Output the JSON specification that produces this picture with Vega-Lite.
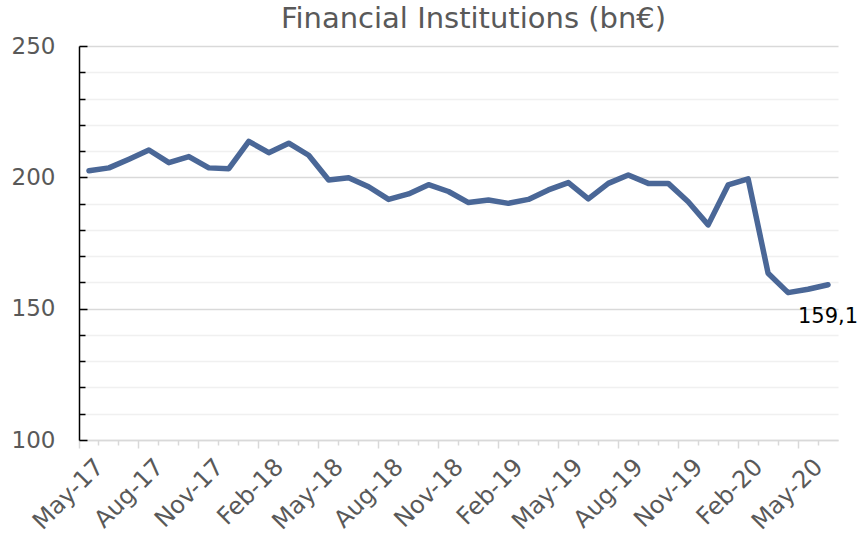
{
  "$schema": "https://vega.github.io/schema/vega-lite/v6.json",
  "width": 759,
  "height": 394,
  "autosize": {"type": "none"},
  "padding": {"left": 79, "top": 46, "right": 20, "bottom": 100},
  "background": "white",
  "config": {
    "view": {"stroke": null},
    "locale": {"number": {"decimal": ",", "thousands": ".", "grouping": [3], "currency": ["", " €"]}}
  },
  "title": {
    "text": "Financial Institutions (bn€)",
    "font": "DejaVu Sans",
    "fontSize": 29,
    "fontWeight": "normal",
    "color": "#595959",
    "anchor": "middle",
    "frame": "group",
    "dx": 15,
    "baseline": "alphabetic",
    "offset": -22
  },
  "data": {
    "values": [
      {"month": "May-17", "value": 202.5},
      {"month": "Jun-17", "value": 203.6},
      {"month": "Jul-17", "value": 206.9},
      {"month": "Aug-17", "value": 210.4},
      {"month": "Sep-17", "value": 205.6},
      {"month": "Oct-17", "value": 207.9},
      {"month": "Nov-17", "value": 203.6},
      {"month": "Dec-17", "value": 203.3},
      {"month": "Jan-18", "value": 213.7},
      {"month": "Feb-18", "value": 209.4},
      {"month": "Mar-18", "value": 213.0},
      {"month": "Apr-18", "value": 208.4},
      {"month": "May-18", "value": 199.0},
      {"month": "Jun-18", "value": 199.8},
      {"month": "Jul-18", "value": 196.4},
      {"month": "Aug-18", "value": 191.6},
      {"month": "Sep-18", "value": 193.7},
      {"month": "Oct-18", "value": 197.2},
      {"month": "Nov-18", "value": 194.6},
      {"month": "Dec-18", "value": 190.4},
      {"month": "Jan-19", "value": 191.4},
      {"month": "Feb-19", "value": 190.1},
      {"month": "Mar-19", "value": 191.6},
      {"month": "Apr-19", "value": 195.2},
      {"month": "May-19", "value": 198.0},
      {"month": "Jun-19", "value": 191.8},
      {"month": "Jul-19", "value": 197.7},
      {"month": "Aug-19", "value": 200.9},
      {"month": "Sep-19", "value": 197.7},
      {"month": "Oct-19", "value": 197.7},
      {"month": "Nov-19", "value": 190.7},
      {"month": "Dec-19", "value": 181.9},
      {"month": "Jan-20", "value": 197.1},
      {"month": "Feb-20", "value": 199.4},
      {"month": "Mar-20", "value": 163.5},
      {"month": "Apr-20", "value": 156.1},
      {"month": "May-20", "value": 157.4},
      {"month": "Jun-20", "value": 159.1}
    ]
  },
  "encoding": {
    "x": {
      "field": "month",
      "type": "ordinal",
      "sort": null,
      "scale": {"type": "band", "paddingInner": 0, "paddingOuter": 0},
      "axis": {
        "title": null,
        "bandPosition": 0,
        "labelExpr": "test(/^(May|Aug|Nov|Feb)/, datum.value) ? datum.value : ''",
        "labelAngle": -45,
        "labelAlign": "right",
        "labelBaseline": "middle",
        "labelPadding": 15,
        "labelOffset": 11,
        "labelFont": "DejaVu Sans",
        "labelFontSize": 24,
        "labelColor": "#595959",
        "labelOverlap": false,
        "labelBound": false,
        "domainColor": "#d9d9d9",
        "domainWidth": 1.5,
        "tickColor": "#d9d9d9",
        "tickWidth": 1.5,
        "tickSize": {"condition": {"test": "test(/^(May|Aug|Nov|Feb)/, datum.value)", "value": 8}, "value": 5},
        "grid": false
      }
    },
    "y": {
      "field": "value",
      "type": "quantitative",
      "scale": {"domain": [100, 250], "nice": false, "zero": false},
      "axis": {
        "title": null,
        "values": [100, 110, 120, 130, 140, 150, 160, 170, 180, 190, 200, 210, 220, 230, 240, 250],
        "labelExpr": "datum.value % 50 === 0 ? datum.label : ''",
        "labelFont": "DejaVu Sans",
        "labelFontSize": 23,
        "labelColor": "#595959",
        "labelPadding": 32,
        "labelOverlap": false,
        "domainColor": "#000000",
        "domainWidth": 1.5,
        "tickColor": "#000000",
        "tickWidth": 1.5,
        "tickSize": {"condition": {"test": "datum.value % 50 === 0", "value": -8}, "value": -6},
        "grid": true,
        "gridColor": {"condition": {"test": "datum.value % 50 === 0", "value": "#d9d9d9"}, "value": "#f0f0f0"},
        "gridWidth": 1.5
      }
    }
  },
  "layer": [
    {
      "mark": {"type": "line", "color": "#4a6797", "strokeWidth": 5.5, "strokeJoin": "round", "strokeCap": "round"}
    },
    {
      "transform": [{"filter": "datum.month === 'Jun-20'"}],
      "mark": {"type": "text", "font": "DejaVu Sans", "fontSize": 21, "color": "#000000", "align": "center", "baseline": "middle", "dy": 32},
      "encoding": {"text": {"field": "value", "type": "quantitative", "format": ".1f"}}
    }
  ]
}
